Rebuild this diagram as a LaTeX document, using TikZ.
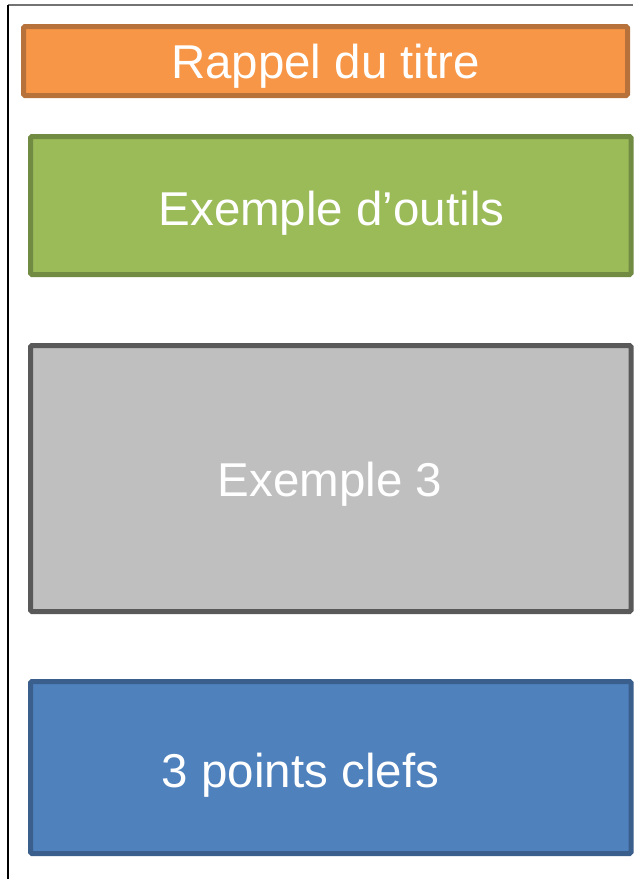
\documentclass[tikz,border=0pt]{standalone}
\usepackage{fontspec}
\setmainfont{Liberation Sans}
\definecolor{orfill}{HTML}{F79646}
\definecolor{ordraw}{HTML}{B7713A}
\definecolor{grfill}{HTML}{9BBB59}
\definecolor{grdraw}{HTML}{728B43}
\definecolor{gyfill}{HTML}{BFBFBF}
\definecolor{gydraw}{HTML}{595959}
\definecolor{blfill}{HTML}{4F81BD}
\definecolor{bldraw}{HTML}{3A5F8C}
\tikzset{
  box/.style={rectangle, line width=5pt, rounded corners=1.5pt, inner sep=0pt},
  lbl/.style={anchor=base, text=white, inner sep=0pt, font=\fontsize{47.5}{51}\selectfont},
}
\begin{document}
\begin{tikzpicture}[x=1pt,y=-1pt]
\useasboundingbox (0,0) rectangle (633,879);
% outer frame
\coordinate (tl) at (8,5);
\coordinate (tr) at (633,5);
\coordinate (bl) at (8,879);
\draw[line width=1.5pt, color=black!55] (tl) -- (tr);
\draw[line width=1.2pt, color=black] (tl) -- (bl);
% boxes
\node[box, draw=ordraw, fill=orfill, minimum width=604pt, minimum height=69pt] (b1) at (325.5,61) {};
\node[box, draw=grdraw, fill=grfill, minimum width=600.5pt, minimum height=138pt] (b2) at (330.75,205.5) {};
\node[box, draw=gydraw, fill=gyfill, minimum width=600.5pt, minimum height=266pt] (b3) at (330.75,478.5) {};
\node[box, draw=bldraw, fill=blfill, minimum width=600.5pt, minimum height=172pt] (b4) at (330.75,767.5) {};
% labels
\node[lbl] (t1) at (325.5,78.6) {Rappel du titre};
\node[lbl] (t2) at (331.5,225.9) {Exemple d’outils};
\node[lbl] (t3) at (330,496) {Exemple 3};
\node[lbl] (t4) at (300.5,787.5) {3 points clefs};
\end{tikzpicture}
\end{document}
